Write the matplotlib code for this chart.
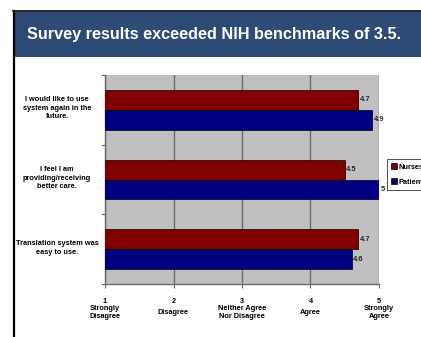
import matplotlib
matplotlib.use("Agg")
import matplotlib.pyplot as plt
from matplotlib.patches import Rectangle
from matplotlib.lines import Line2D
import matplotlib.transforms as mtransforms

plt.rcParams['font.family'] = ['Liberation Sans', 'DejaVu Sans']

title = "Survey results exceeded NIH benchmarks of 3.5."
categories = ["Translation system was\neasy to use.",
              "I feel I am\nproviding/receiving\nbetter care.",
              "I would like to use\nsystem again in the\nfuture."]
nurses = [4.7, 4.5, 4.7]
patients = [4.6, 5.0, 4.9]
nurse_labels = ["4.7", "4.5", "4.7"]
patient_labels = ["4.6", "5", "4.9"]
series_names = ["Nurses", "Patients"]
xticks = [1, 2, 3, 4, 5]
xdesc = ["Strongly\nDisagree", "Disagree", "Neither Agree\nNor Disagree", "Agree", "Strongly\nAgree"]

W, H = 421, 337
fig = plt.figure(figsize=(W / 100, H / 100), dpi=100)
fig.patch.set_facecolor('white')

# frame / banner
fig.add_artist(Rectangle((15 / W, 1 - 57 / H), (W - 15) / W, 45 / H,
                         transform=fig.transFigure, facecolor='#2D4B74', edgecolor='none'))
fig.add_artist(Line2D([13.5 / W, 13.5 / W], [0, 1 - 10.5 / H], transform=fig.transFigure,
                      color='black', lw=1.6))
fig.add_artist(Line2D([13 / W, 1], [1 - 11 / H, 1 - 11 / H], transform=fig.transFigure,
                      color='black', lw=1.2))
fig.text(27 / W, 1 - 35 / H, title, color='white', fontsize=11.7, fontweight='bold',
         ha='left', va='center')

ax = fig.add_axes([105 / W, 1 - 284 / H, 274 / W, 209 / H])
ax.set_facecolor('#C0C0C0')
ys = list(range(len(categories)))
bh = 0.2857
ax.barh([y + bh / 2 for y in ys], nurses, height=bh, left=0, color='#800000',
        edgecolor='black', linewidth=0.5, label=series_names[0], zorder=3)
ax.barh([y - bh / 2 for y in ys], patients, height=bh, left=0, color='#000080',
        edgecolor='black', linewidth=0.5, label=series_names[1], zorder=3)
ax.set_xlim(1, 5)
ax.set_ylim(-0.5, len(categories) - 0.5)

for y, v, t in zip(ys, nurses, nurse_labels):
    ax.text(v + 0.02, y + bh / 2, t, fontsize=5.4, fontweight='bold', va='center', ha='left',
            color='#222233', clip_on=False)
for y, v, t in zip(ys, patients, patient_labels):
    ax.text(v + 0.02, y - bh / 2, t, fontsize=5.4, fontweight='bold', va='center', ha='left',
            color='#222233', clip_on=False)

# grid
ax.set_xticks(xticks)
ax.xaxis.grid(True, color='#6A6A6A', linewidth=1.0, zorder=1)
ax.set_axisbelow(True)
ax.set_xticklabels([str(x) for x in xticks], fontsize=5.2, fontweight='bold')
ax.tick_params(axis='x', length=3, width=0.8, color='#6A6A6A', pad=7)

ax.set_yticks([y - 0.5 for y in ys] + [len(ys) - 0.5])
ax.set_yticklabels([])
ax.tick_params(axis='y', length=3, width=0.8, color='#6A6A6A')

for s in ['top', 'right']:
    ax.spines[s].set_visible(False)
for s in ['left', 'bottom']:
    ax.spines[s].set_color('#6A6A6A')
    ax.spines[s].set_linewidth(1.0)

trans = mtransforms.blended_transform_factory(ax.transAxes, ax.transData)
for y, c in zip(ys, categories):
    ax.text(-48 / 274, y + 0.02, c, transform=trans, ha='center', va='center',
            fontsize=5.3, fontweight='bold', linespacing=1.3)

transx = mtransforms.blended_transform_factory(ax.transData, fig.transFigure)
for x, d in zip(xticks, xdesc):
    ax.text(x, 1 - 313 / H, d, transform=transx, ha='center', va='center',
            fontsize=5.3, fontweight='bold', linespacing=1.2)

h, l = ax.get_legend_handles_labels()
leg = fig.legend(h, l, loc='upper left', bbox_to_anchor=(387 / W, 1 - 159 / H),
                 prop={'size': 5.3, 'weight': 'bold'}, fancybox=False, frameon=True,
                 handlelength=0.8, handleheight=0.8, handletextpad=0.2,
                 borderpad=0.6, labelspacing=1.0, borderaxespad=0)
leg.get_frame().set_edgecolor('black')
leg.get_frame().set_linewidth(0.6)

fig.savefig('out.png', dpi=100)
